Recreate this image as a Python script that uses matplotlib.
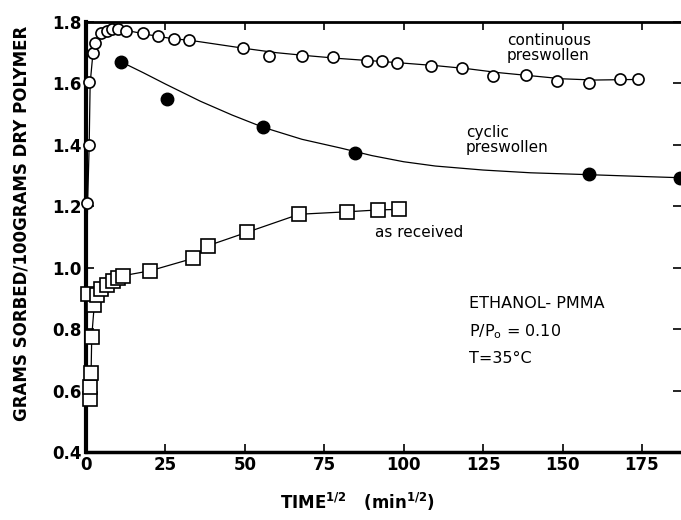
import matplotlib
matplotlib.use("Agg")
import matplotlib.pyplot as plt

plt.rcParams["font.family"] = ["DejaVu Sans"]
plt.rcParams["mathtext.default"] = "regular"

# continuous preswollen (open circles)
cont_x = [0.4, 1.0, 1.0, 2.3, 2.8, 4.7, 6.7, 8.3, 10.1, 12.6, 17.9, 22.8, 27.8, 32.5,
          49.5, 57.7, 67.9, 77.9, 88.4, 93.3, 97.8, 108.5, 118.3, 128.1, 138.5,
          148.4, 158.2, 168.1, 173.7]
cont_y = [1.21, 1.40, 1.606, 1.698, 1.73, 1.763, 1.77, 1.776, 1.777, 1.772, 1.763,
          1.754, 1.745, 1.742, 1.715, 1.69, 1.69, 1.685, 1.673, 1.673, 1.668, 1.657,
          1.651, 1.624, 1.627, 1.608, 1.60, 1.615, 1.614]
cont_fit_x = [0.3, 0.5, 1.0, 1.3, 2.2, 3.2, 4.7, 6.7, 9, 11.5, 15, 20, 27, 33, 50, 60,
              70, 80, 95, 110, 120, 130, 140, 150, 160, 174]
cont_fit_y = [1.10, 1.21, 1.40, 1.60, 1.70, 1.735, 1.762, 1.771, 1.776, 1.776, 1.768,
              1.758, 1.746, 1.740, 1.714, 1.700, 1.690, 1.681, 1.670, 1.658, 1.648,
              1.635, 1.625, 1.615, 1.611, 1.613]

# cyclic preswollen (filled circles)
cyc_x = [10.9, 25.4, 55.8, 84.7, 158.2, 187.0]
cyc_y = [1.671, 1.549, 1.457, 1.375, 1.304, 1.293]
cyc_fit_x = [10.9, 18, 25, 36, 46, 55.8, 68, 80, 90, 100, 110, 125, 140, 158, 175, 187]
cyc_fit_y = [1.671, 1.635, 1.598, 1.542, 1.497, 1.457, 1.418, 1.390, 1.365, 1.345,
             1.331, 1.318, 1.309, 1.303, 1.297, 1.293]

# as received (open squares)
recv_x = [1.3, 1.3, 1.6, 1.8, 2.6, 0.7, 3.4, 4.7, 6.5, 8.4, 10.0, 11.7, 20.2, 33.6,
          38.5, 50.6, 67.1, 82.1, 91.8, 98.6]
recv_y = [0.572, 0.611, 0.658, 0.775, 0.879, 0.914, 0.911, 0.93, 0.944, 0.958, 0.968,
          0.974, 0.99, 1.03, 1.072, 1.115, 1.174, 1.182, 1.188, 1.19]
recv_fit_x = [1.3, 1.3, 1.6, 1.8, 2.6, 3.4, 4.7, 6.5, 8.4, 10.0, 11.7, 20.2, 33.6,
              38.5, 50.6, 67.1, 82.1, 91.8, 98.6]
recv_fit_y = [0.572, 0.611, 0.658, 0.775, 0.879, 0.911, 0.93, 0.944, 0.958,
              0.968, 0.974, 0.99, 1.03, 1.072, 1.115, 1.174, 1.182, 1.188, 1.19]

xticks = [0, 25, 50, 75, 100, 125, 150, 175]
yticks = [0.4, 0.6, 0.8, 1.0, 1.2, 1.4, 1.6, 1.8]

fig = plt.figure(figsize=(6.81, 5.20), dpi=100)
ax = fig.add_axes([0.1263, 0.1308, 0.8737, 0.8269])

lw = 0.9
ax.plot(cont_fit_x, cont_fit_y, "-", color="black", lw=lw)
ax.plot(cyc_fit_x, cyc_fit_y, "-", color="black", lw=lw)
ax.plot(recv_fit_x, recv_fit_y, "-", color="black", lw=lw)

ax.plot(cont_x, cont_y, "o", ms=8, mfc="white", mec="black", mew=1.2, clip_on=False, zorder=3)
ax.plot(cyc_x, cyc_y, "o", ms=9, mfc="black", mec="black", clip_on=False, zorder=3)
ax.plot(recv_x, recv_y, "s", ms=9.5, mfc="white", mec="black", mew=1.2, clip_on=False, zorder=3)

ax.set_xlim(0, 187.3)
ax.set_ylim(0.4, 1.8)
ax.set_xticks(xticks)
ax.set_yticks(yticks)
ax.set_xticklabels([str(t) for t in xticks], fontsize=12, fontweight="bold")
ax.set_yticklabels(["%.1f" % t for t in yticks], fontsize=12, fontweight="bold")
ax.tick_params(direction="in", length=6, width=1.2, top=True, right=True, pad=3)

ax.spines["left"].set_linewidth(3)
ax.spines["bottom"].set_linewidth(2.5)
ax.spines["top"].set_linewidth(2)
ax.spines["right"].set_visible(False)

ax.text(132.5, 1.715, "continuous\npreswollen", fontsize=11, va="center", ha="left",
        linespacing=1.0)
ax.text(119.6, 1.416, "cyclic\npreswollen", fontsize=11, va="center", ha="left",
        linespacing=1.0)
ax.text(91, 1.116, "as received", fontsize=11, va="center", ha="left")
ax.text(120.7, 0.884, "ETHANOL- PMMA", fontsize=11.5, va="center", ha="left")
ax.text(120.7, 0.792, r"P/P$_{o}$ = 0.10", fontsize=11.5, va="center", ha="left")
ax.text(120.7, 0.705, "T=35°C", fontsize=11.5, va="center", ha="left")

fig.text(0.032, 0.57, "GRAMS SORBED/100GRAMS DRY POLYMER", rotation=90,
         fontsize=12, fontweight="bold", ha="center", va="center")
fig.text(0.525, 0.035, r"TIME$^{1/2}$   (min$^{1/2}$)", fontsize=12,
         fontweight="bold", ha="center", va="center")

fig.savefig("out.png", dpi=100)
